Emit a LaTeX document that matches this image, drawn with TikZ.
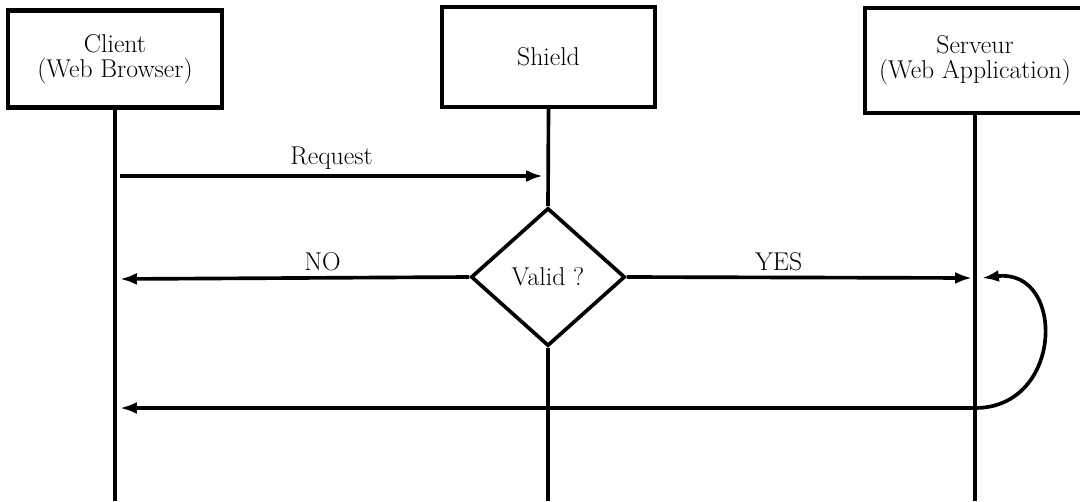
\documentclass[tikz,border=0pt]{standalone}
\usetikzlibrary{shapes.geometric,arrows.meta}
\begin{document}
\begin{tikzpicture}[x=0.025cm,y=-0.025cm,
  every node/.style={font=\fontsize{18.3}{17.5}\selectfont},
  actor/.style={draw, line width=3.1pt, rectangle, inner sep=0pt, align=center},
  lifeline/.style={line width=2.6pt},
  msg/.style={line width=2.6pt, -{Latex[length=12pt,width=8.5pt]}},
  decision/.style={draw, diamond, line width=2.6pt, inner sep=0pt, minimum width=3.85cm, minimum height=3.45cm}
]
\useasboundingbox (0,0) rectangle (1080,501);
\clip (0,0) rectangle (1080,501);
% actors
\node[actor, minimum width=5.35cm, minimum height=2.43cm] (client) at (115,59) {Client\\(Web Browser)};
\node[actor, minimum width=5.33cm, minimum height=2.5cm] (shield) at (548.5,57) {Shield};
\node[actor, minimum width=5.5cm, minimum height=2.63cm] (server) at (975,60.5) {Serveur\\(Web Application)};
\node[decision] (valid) at (548,277) {Valid ?};
% lifeline ends
\coordinate (clientEnd) at (115,501);
\coordinate (shieldEnd) at (548,501);
\coordinate (serverEnd) at (975,501);
\draw[lifeline] (client.south) -- (clientEnd);
\draw[lifeline] (shield.south) -- (valid.north);
\draw[lifeline] (valid.south) -- (shieldEnd);
\draw[lifeline] (server.south) -- (serverEnd);
% message points
\coordinate (reqA) at (120,176);
\coordinate (reqB) at (543,176);
\coordinate (noB) at (120,279);
\coordinate (yesB) at (972,278);
\coordinate (loopA) at (975,408);
\coordinate (loopB) at (982,278);
\coordinate (retB) at (120,408);
\draw[msg] (reqA) -- node[above, pos=0.5] {Request} (reqB);
\draw[msg] (valid.west) -- node[above, pos=0.42] {NO} (noB);
\draw[msg] (valid.east) -- node[above, pos=0.44] {YES} (yesB);
\draw[msg] (loopA) .. controls (1064,408) and (1066,268) .. (loopB);
\draw[msg] (loopA) -- (retB);
\end{tikzpicture}
\end{document}
